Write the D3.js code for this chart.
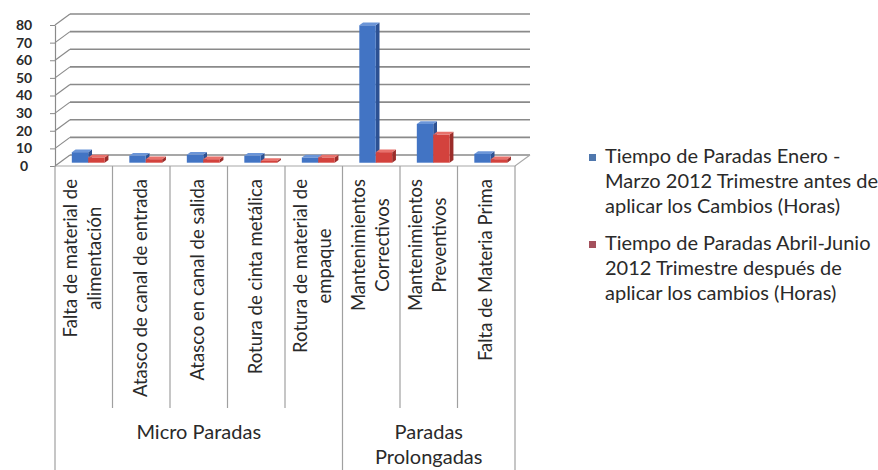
<!DOCTYPE html>
<html>
<head>
<meta charset="utf-8">
<script src="https://cdn.jsdelivr.net/npm/d3@7"></script>
<style>
  html, body { margin: 0; padding: 0; background: #fff; }
  svg { display: block; font-family: Lato, "Open Sans", sans-serif; }
</style>
</head>
<body>
<svg id="chart" width="878" height="470"></svg>
<script>
// Category labels, one array entry per printed line
const categoryLines = [
  ["Falta de material de", "alimentación"],
  ["Atasco de canal de entrada"],
  ["Atasco en canal de salida"],
  ["Rotura de cinta metálica"],
  ["Rotura de material de", "empaque"],
  ["Mantenimientos", "Correctivos"],
  ["Mantenimientos", "Preventivos"],
  ["Falta de Materia Prima"]
];
const categories = categoryLines.map(l => l.join(" "));

// Outer category groups
const groupLines = [["Micro Paradas"], ["Paradas", "Prolongadas"]];
const groupSizes = [5, 3];

// Series (hours of downtime)
const seriesLabels = [
  ["Tiempo de Paradas Enero -", "Marzo 2012 Trimestre antes de", "aplicar los Cambios (Horas)"],
  ["Tiempo de Paradas Abril-Junio", "2012 Trimestre después de", "aplicar los cambios (Horas)"]
];
const eneroMarzo = [6, 4, 4.5, 4, 3, 78, 22, 5];
const abrilJunio = [3, 2, 2, 1, 3, 6, 16, 2];
const yTicks = [0, 10, 20, 30, 40, 50, 60, 70, 80];

const seriesValues = [eneroMarzo, abrilJunio];
const faceColors = [
  { front: "#4274c4", side: "#2c5193", top: "#6b95d8", key: "#4f77ad" },
  { front: "#d3423d", side: "#9b2d2a", top: "#e8716b", key: "#a4505c" }
];

const svg = d3.select("#chart");

// Front plane scales; depth is an oblique offset towards the back wall
const x = d3.scaleBand().domain(categories).range([55, 515]).padding(0);
const y = d3.scaleLinear().domain([0, 80]).range([166, 25]);
const DX = 15, DY = -11;
const proj = (px, v, z) => [px + DX * z, y(v) + DY * z];

const bw = x.bandwidth() / 3.5;
const inner = d3.scaleBand().domain([0, 1])
  .range([x.bandwidth() / 2 - bw, x.bandwidth() / 2 + bw]).padding(0);
const Z0 = 0.3, Z1 = 0.55;

const grid = svg.append("g");
// Back wall gridlines
grid.selectAll("line.back").data(yTicks).join("line")
  .attr("x1", d => proj(55, d, 1)[0]).attr("y1", d => proj(55, d, 1)[1])
  .attr("x2", d => proj(515, d, 1)[0]).attr("y2", d => proj(515, d, 1)[1])
  .attr("stroke", "#8a8a8a").attr("stroke-width", 1.6);
// Side wall diagonals
grid.selectAll("line.side").data(yTicks).join("line")
  .attr("x1", d => proj(55, d, 0)[0]).attr("y1", d => proj(55, d, 0)[1])
  .attr("x2", d => proj(55, d, 1)[0]).attr("y2", d => proj(55, d, 1)[1])
  .attr("stroke", "#8a8a8a").attr("stroke-width", 1.2);
// Floor outline
grid.append("path")
  .attr("d", d3.line()([proj(55, 0, 0), proj(515, 0, 0), proj(515, 0, 1)]))
  .attr("fill", "none").attr("stroke", "#a8a8a8").attr("stroke-width", 1.2);

// Value axis on the front plane
const yAxis = svg.append("g").attr("transform", "translate(55,0)")
  .call(d3.axisLeft(y).tickValues(yTicks).tickSize(5).tickSizeOuter(0));
yAxis.select(".domain").attr("stroke", "#8a8a8a").attr("stroke-width", 1.2);
yAxis.selectAll(".tick line").attr("stroke", "#8a8a8a");
yAxis.selectAll(".tick text")
  .attr("x", -31).attr("text-anchor", "middle")
  .attr("font-family", "Lato, sans-serif").attr("font-size", 14)
  .attr("font-weight", 700).attr("fill", "#2a2a2a");

// 3D columns
const bars = svg.append("g");
categories.forEach((c, i) => {
  seriesValues.forEach((vals, s) => {
    const v = vals[i];
    const x0 = x(c) + inner(s), x1 = x0 + inner.bandwidth();
    const col = faceColors[s];
    const front = [proj(x0, v, Z0), proj(x1, v, Z0), proj(x1, 0, Z0), proj(x0, 0, Z0)];
    const side = [proj(x1, 0, Z0), proj(x1, v, Z0), proj(x1, v, Z1), proj(x1, 0, Z1)];
    const top = [proj(x0, v, Z0), proj(x1, v, Z0), proj(x1, v, Z1), proj(x0, v, Z1)];
    bars.append("polygon").attr("points", side.join(" ")).attr("fill", col.side);
    bars.append("polygon").attr("points", front.join(" ")).attr("fill", col.front);
    bars.append("polygon").attr("points", top.join(" ")).attr("fill", col.top);
  });
});

// Category separators and labels
const axisG = svg.append("g");
const bounds = d3.range(categories.length + 1).map(i => i === categories.length ? 515 : x(categories[i]));
const groupEdges = [0, 5, 8];
axisG.selectAll("line.sep").data(bounds).join("line")
  .attr("x1", d => d).attr("x2", d => d)
  .attr("y1", 166)
  .attr("y2", (d, i) => groupEdges.includes(i) ? 470 : 408)
  .attr("stroke", "#a0a0a0").attr("stroke-width", 1.2);

const LABEL_TOP = 179, LINE_GAP = 24;
categories.forEach((c, i) => {
  const lines = categoryLines[i];
  const cx = x(c) + x.bandwidth() / 2 - 1;
  const g = axisG.append("g");
  const texts = lines.map((t, k) => g.append("text").text(t)
    .attr("font-size", 18.5).attr("fill", "#2a2a2a"));
  const maxLen = d3.max(texts, t => t.node().getComputedTextLength());
  texts.forEach((t, k) => {
    const off = (k - (lines.length - 1) / 2) * LINE_GAP;
    t.attr("text-anchor", "middle").attr("dy", "0.35em")
      .attr("transform", `translate(${cx + off},${LABEL_TOP + maxLen / 2}) rotate(-90)`);
  });
});

// Group labels
let start = 0;
groupLines.forEach((lines, gi) => {
  const a = bounds[start], b = bounds[start + groupSizes[gi]];
  const cx = (a + b) / 2;
  lines.forEach((t, k) => {
    axisG.append("text").text(t)
      .attr("x", cx).attr("y", 439 + k * 25)
      .attr("text-anchor", "middle").attr("font-size", 20).attr("fill", "#2a2a2a");
  });
  start += groupSizes[gi];
});

// Legend
const legend = svg.append("g");
const itemTop = [163, 250];
seriesLabels.forEach((lines, s) => {
  legend.append("rect").attr("x", 589).attr("y", itemTop[s] - 9)
    .attr("width", 7).attr("height", 7).attr("fill", faceColors[s].key);
  lines.forEach((t, k) => {
    legend.append("text").text(t)
      .attr("x", 605).attr("y", itemTop[s] + k * 25)
      .attr("font-size", 20).attr("fill", "#2a2a2a");
  });
});
</script>
</body>
</html>
